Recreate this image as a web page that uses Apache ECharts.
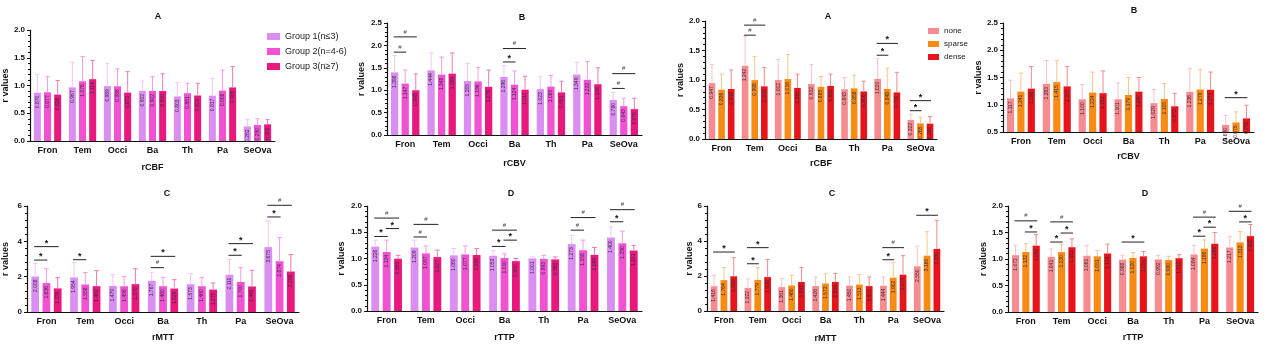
<!DOCTYPE html>
<html>
<head>
<meta charset="utf-8">
<script src="https://cdn.jsdelivr.net/npm/echarts@6/dist/echarts.min.js"></script>
<style>
  html, body { margin: 0; padding: 0; background: #fff; }
  #chart { width: 1280px; height: 351px; }
</style>
</head>
<body>
<div id="chart"></div>
<script>
// categories and groups
const categories = ['Fron', 'Tem', 'Occi', 'Ba', 'Th', 'Pa', 'SeOva']
const groupNames = ['Group 1(n≤3)', 'Group 2(n=4-6)', 'Group 3(n≥7)']
const densityNames = ['none', 'sparse', 'dense']

// rCBF by group (mean, mean+SD)
const groupCbfMean = [
  [0.870, 0.967, 0.989, 0.902, 0.803, 0.817, 0.262],
  [0.877, 1.076, 0.986, 0.902, 0.861, 0.908, 0.290],
  [0.836, 1.114, 0.872, 0.900, 0.820, 0.965, 0.300]
]
const groupCbfUpper = [
  [1.20, 1.42, 1.40, 1.08, 1.05, 1.13, 0.39],
  [1.16, 1.52, 1.30, 1.16, 1.04, 1.28, 0.40],
  [1.09, 1.45, 1.25, 1.21, 1.04, 1.34, 0.385]
]
const groupCbfSig = []

// rCBV by group
const groupCbvMean = [
  [1.398, 1.444, 1.205, 1.296, 1.023, 1.349, 0.780],
  [1.147, 1.348, 1.196, 1.124, 1.080, 1.232, 0.643],
  [0.998, 1.369, 1.076, 1.011, 0.951, 1.134, 0.578]
]
const groupCbvUpper = [
  [1.77, 1.83, 1.60, 1.55, 1.30, 1.62, 0.95],
  [1.45, 1.74, 1.51, 1.43, 1.33, 1.64, 0.82],
  [1.36, 1.83, 1.45, 1.31, 1.20, 1.50, 0.82]
]
// [category, from group, to group, level, mark]
const groupCbvSig = [
  [0, 0, 1, 1.85, '#'], [0, 0, 2, 2.19, '#'],
  [3, 0, 1, 1.63, '*'], [3, 0, 2, 1.93, '#'],
  [6, 0, 1, 1.04, '#'], [6, 0, 2, 1.37, '#']
]

// rMTT by group
const groupMttMean = [
  [2.008, 1.954, 1.479, 1.767, 1.573, 2.111, 3.675],
  [1.636, 1.558, 1.456, 1.460, 1.460, 1.700, 2.874],
  [1.338, 1.462, 1.576, 1.328, 1.270, 1.445, 2.290]
]
const groupMttUpper = [
  [2.75, 2.79, 2.11, 2.25, 2.17, 2.98, 5.15],
  [2.45, 2.23, 2.02, 1.96, 1.96, 2.51, 4.21],
  [1.94, 2.34, 2.45, 1.83, 1.64, 2.36, 3.25]
]
const groupMttSig = [
  [0, 0, 1, 2.94, '*'], [0, 0, 2, 3.70, '*'],
  [1, 0, 1, 2.96, '*'],
  [3, 0, 1, 2.51, '#'], [3, 0, 2, 3.15, '*'],
  [5, 0, 1, 3.21, '*'], [5, 0, 2, 3.87, '*'],
  [6, 0, 1, 5.38, '*'], [6, 0, 2, 6.04, '#']
]

// rTTP by group
const groupTtpMean = [
  [1.226, 1.209, 1.060, 1.053, 1.001, 1.273, 1.400],
  [1.124, 1.097, 1.077, 1.010, 0.993, 1.158, 1.290],
  [0.995, 1.027, 1.066, 0.950, 0.983, 1.069, 1.151]
]
const groupTtpUpper = [
  [1.35, 1.35, 1.19, 1.15, 1.03, 1.44, 1.60],
  [1.35, 1.24, 1.24, 1.09, 1.06, 1.35, 1.52],
  [1.06, 1.16, 1.19, 1.00, 1.03, 1.21, 1.25]
]
const groupTtpSig = [
  [0, 0, 1, 1.42, '*'], [0, 1, 2, 1.57, '*'], [0, 0, 2, 1.77, '#'],
  [1, 0, 1, 1.41, '#'], [1, 0, 2, 1.65, '#'],
  [3, 0, 1, 1.23, '*'], [3, 1, 2, 1.35, '*'], [3, 0, 2, 1.54, '#'],
  [5, 0, 1, 1.54, '#'], [5, 0, 2, 1.78, '#'],
  [6, 0, 1, 1.70, '*'], [6, 0, 2, 1.93, '#']
]

// rCBF by density
const densityCbfMean = [
  [0.947, 1.242, 1.002, 0.932, 0.843, 1.020, 0.323],
  [0.836, 0.998, 1.016, 0.885, 0.858, 0.848, 0.265],
  [0.848, 0.893, 0.866, 0.900, 0.806, 0.790, 0.260]
]
const densityCbfUpper = [
  [1.26, 1.74, 1.35, 1.26, 1.04, 1.36, 0.42],
  [1.10, 1.40, 1.43, 1.06, 1.08, 1.20, 0.37],
  [1.17, 1.21, 1.10, 1.10, 0.98, 1.13, 0.38]
]
const densityCbfSig = [
  [1, 0, 1, 1.76, '#'], [1, 0, 2, 1.93, '#'],
  [5, 0, 1, 1.42, '*'], [5, 0, 2, 1.62, '*'],
  [6, 0, 1, 0.48, '*'], [6, 0, 2, 0.65, '*']
]

// rCBV by density
const densityCbvMean = [
  [1.117, 1.383, 1.100, 1.101, 1.029, 1.236, 0.630],
  [1.241, 1.415, 1.224, 1.179, 1.105, 1.279, 0.675],
  [1.296, 1.337, 1.212, 1.240, 0.972, 1.275, 0.750]
]
const densityCbvUpper = [
  [1.45, 1.81, 1.37, 1.40, 1.28, 1.66, 0.80],
  [1.58, 1.81, 1.60, 1.50, 1.39, 1.65, 0.87],
  [1.70, 1.70, 1.62, 1.50, 1.21, 1.60, 0.99]
]
const densityCbvSig = [[6, 0, 2, 1.13, '*']]

// rMTT by density
const densityMttMean = [
  [1.416, 1.322, 1.361, 1.426, 1.450, 1.444, 2.550],
  [1.764, 1.779, 1.460, 1.573, 1.513, 1.902, 3.160],
  [1.983, 1.936, 1.658, 1.656, 1.423, 2.074, 3.550]
]
const densityMttUpper = [
  [2.04, 1.83, 1.85, 1.94, 1.94, 1.94, 3.71],
  [2.48, 2.48, 2.04, 2.13, 2.08, 2.78, 4.53],
  [3.05, 2.95, 2.48, 2.15, 1.94, 3.16, 5.18]
]
const densityMttSig = [
  [0, 0, 2, 3.37, '*'],
  [1, 0, 1, 2.70, '*'], [1, 0, 2, 3.62, '*'],
  [5, 0, 1, 2.93, '*'], [5, 0, 2, 3.62, '#'],
  [6, 0, 2, 5.47, '*']
]

// rTTP by density
const densityTtpMean = [
  [1.072, 1.041, 1.061, 0.988, 0.992, 1.084, 1.217],
  [1.132, 1.130, 1.051, 1.020, 0.980, 1.196, 1.313],
  [1.252, 1.222, 1.104, 1.050, 1.015, 1.288, 1.432]
]
const densityTtpUpper = [
  [1.26, 1.19, 1.26, 1.07, 1.07, 1.26, 1.42],
  [1.29, 1.28, 1.16, 1.12, 1.05, 1.36, 1.52],
  [1.46, 1.38, 1.28, 1.14, 1.08, 1.50, 1.65]
]
const densityTtpSig = [
  [0, 1, 2, 1.51, '*'], [0, 0, 2, 1.72, '#'],
  [1, 0, 1, 1.32, '*'], [1, 1, 2, 1.49, '*'], [1, 0, 2, 1.70, '#'],
  [3, 0, 2, 1.32, '*'],
  [5, 0, 1, 1.43, '*'], [5, 1, 2, 1.60, '*'], [5, 0, 2, 1.79, '#'],
  [6, 1, 2, 1.70, '*'], [6, 0, 2, 1.90, '#']
]

const groupColors = ['#DA8EF2', '#F052D2', '#E8187C']
const groupErrColors = ['#F2C6F8', '#F59CE4', '#F27BB0']
const densityColors = ['#F68B90', '#F88B14', '#E8141C']
const densityErrColors = ['#F9C3C3', '#F8C58A', '#F28A8A']

const BAR_W = 0.2
const BAR_GAP = 0.45

const panels = [
  { title: 'A', xName: 'rCBF', mean: groupCbfMean, upper: groupCbfUpper, sig: groupCbfSig, names: groupNames, colors: groupColors, err: groupErrColors,
    min: 0, max: 2, interval: 0.5, dec: 1, grid: { left: 30, top: 30, width: 245, height: 111 }, tPos: [153, 7], yGap: 20, xGap: 22 },
  { title: 'B', xName: 'rCBV', mean: groupCbvMean, upper: groupCbvUpper, sig: groupCbvSig, names: groupNames, colors: groupColors, err: groupErrColors,
    min: 0, max: 2.5, interval: 0.5, dec: 1, grid: { left: 387, top: 23, width: 255, height: 112 }, tPos: [517, 8], yGap: 21, xGap: 24 },
  { title: 'A', xName: 'rCBF', mean: densityCbfMean, upper: densityCbfUpper, sig: densityCbfSig, names: densityNames, colors: densityColors, err: densityErrColors,
    min: 0, max: 2, interval: 0.5, dec: 1, grid: { left: 705, top: 21, width: 232, height: 118 }, tPos: [823, 7], yGap: 12, xGap: 20 },
  { title: 'B', xName: 'rCBV', mean: densityCbvMean, upper: densityCbvUpper, sig: densityCbvSig, names: densityNames, colors: densityColors, err: densityErrColors,
    min: 0.5, max: 2.5, interval: 0.5, dec: 1, grid: { left: 1003, top: 23, width: 251, height: 109 }, tPos: [1129, 1], yGap: 17, xGap: 20 },
  { title: 'C', xName: 'rMTT', mean: groupMttMean, upper: groupMttUpper, sig: groupMttSig, names: groupNames, colors: groupColors, err: groupErrColors,
    min: 0, max: 6, interval: 2, dec: 0, grid: { left: 26, top: 206, width: 273, height: 106 }, tPos: [162, 184], yGap: 17, xGap: 21 },
  { title: 'D', xName: 'rTTP', mean: groupTtpMean, upper: groupTtpUpper, sig: groupTtpSig, names: groupNames, colors: groupColors, err: groupErrColors,
    min: 0, max: 2, interval: 0.5, dec: 1, grid: { left: 367, top: 206, width: 275, height: 105 }, tPos: [506, 184], yGap: 21, xGap: 22 },
  { title: 'C', xName: 'rMTT', mean: densityMttMean, upper: densityMttUpper, sig: densityMttSig, names: densityNames, colors: densityColors, err: densityErrColors,
    min: 0, max: 6, interval: 2, dec: 0, grid: { left: 707, top: 206, width: 237, height: 105 }, tPos: [827, 184], yGap: 13, xGap: 23 },
  { title: 'D', xName: 'rTTP', mean: densityTtpMean, upper: densityTtpUpper, sig: densityTtpSig, names: densityNames, colors: densityColors, err: densityErrColors,
    min: 0, max: 2, interval: 0.5, dec: 1, grid: { left: 1008, top: 206, width: 250, height: 106 }, tPos: [1140, 184], yGap: 20, xGap: 21 }
]

const INK = '#111'

function barCenter(api, cat, g) {
  const band = api.size([1, 0])[0]
  const w = band * BAR_W
  return api.coord([cat, 0])[0] + (g - 1) * w * (1 + BAR_GAP)
}

const titles = []
const grids = []
const xAxes = []
const yAxes = []
const series = []

panels.forEach((p, pi) => {
  titles.push({
    text: p.title, left: p.tPos[0], top: p.tPos[1], textAlign: 'center',
    textStyle: { fontSize: 9, fontWeight: 'bold', color: INK }
  })
  grids.push(Object.assign({ containLabel: false }, p.grid))
  xAxes.push({
    type: 'category', gridIndex: pi, data: categories,
    name: p.xName, nameLocation: 'middle', nameGap: p.xGap,
    nameTextStyle: { fontSize: 9, fontWeight: 'bold', color: INK },
    axisLine: { lineStyle: { color: INK, width: 1.2 } },
    axisTick: { alignWithLabel: true, length: 3, lineStyle: { color: INK } },
    axisLabel: { interval: 0, fontSize: 9, fontWeight: 'bold', color: INK, margin: 5 }
  })
  yAxes.push({
    type: 'value', gridIndex: pi, min: p.min, max: p.max, interval: p.interval,
    name: 'r values', nameLocation: 'middle', nameGap: p.yGap,
    nameTextStyle: { fontSize: 9, fontWeight: 'bold', color: INK },
    axisLine: { show: true, lineStyle: { color: INK, width: 1.2 } },
    axisTick: { show: true, length: 3, lineStyle: { color: INK } },
    minorTick: { show: true, splitNumber: 5, length: 2, lineStyle: { color: INK } },
    splitLine: { show: false },
    axisLabel: { fontSize: 8, fontWeight: 'bold', color: INK, margin: 5, formatter: v => v.toFixed(p.dec) }
  })

  p.mean.forEach((vals, g) => {
    series.push({
      name: p.names[g], type: 'bar', xAxisIndex: pi, yAxisIndex: pi,
      data: vals, barWidth: (BAR_W * 100) + '%', barGap: (BAR_GAP * 100) + '%',
      itemStyle: { color: p.colors[g] },
      label: {
        show: true, position: 'insideTop', rotate: 90, align: 'right', verticalAlign: 'middle',
        distance: 3, fontSize: 5, color: '#3a2a3e', formatter: d => d.value.toFixed(3)
      },
      silent: true
    })
  })

  const errData = []
  p.mean.forEach((vals, g) => {
    vals.forEach((v, c) => errData.push([c, g, v, p.upper[g][c]]))
  })
  series.push({
    type: 'custom', xAxisIndex: pi, yAxisIndex: pi, z: 3, silent: true,
    encode: { x: 0, y: 3 },
    data: errData,
    renderItem: (params, api) => {
      const c = api.value(0)
      const g = api.value(1)
      const x = barCenter(api, c, g)
      const y0 = api.coord([c, api.value(2)])[1]
      const y1 = api.coord([c, api.value(3)])[1]
      const half = api.size([1, 0])[0] * BAR_W * 0.3
      const stroke = p.err[g]
      return {
        type: 'group',
        children: [
          { type: 'line', shape: { x1: x, y1: y0, x2: x, y2: y1 }, style: { stroke, lineWidth: 1 } },
          { type: 'line', shape: { x1: x - half, y1: y1, x2: x + half, y2: y1 }, style: { stroke, lineWidth: 1 } }
        ]
      }
    }
  })

  if (p.sig.length) {
    series.push({
      type: 'custom', xAxisIndex: pi, yAxisIndex: pi, z: 4, silent: true,
      encode: { x: 0, y: 3 },
      data: p.sig.map(s => [s[0], s[1], s[2], s[3]]),
      renderItem: (params, api) => {
        const s = p.sig[params.dataIndex]
        const c = api.value(0)
        const x1 = barCenter(api, c, api.value(1)) - 1
        const x2 = barCenter(api, c, api.value(2)) + 1
        const y = api.coord([c, api.value(3)])[1]
        const star = s[4] === '*'
        return {
          type: 'group',
          children: [
            { type: 'line', shape: { x1, y1: y, x2, y2: y }, style: { stroke: '#222', lineWidth: 1 } },
            {
              type: 'text', x: (x1 + x2) / 2, y: star ? y + 1 : y - 2,
              style: {
                text: s[4], align: 'center', verticalAlign: 'bottom',
                textAlign: 'center', textVerticalAlign: 'bottom',
                fill: star ? '#111' : '#444',
                font: star ? 'bold 9px Liberation Sans' : '6px Liberation Sans'
              }
            }
          ]
        }
      }
    })
  }
})

const chart = echarts.init(document.getElementById('chart'), null, { renderer: 'canvas' })
chart.setOption({
  animation: false,
  textStyle: { fontFamily: 'Liberation Sans, Arial, sans-serif' },
  title: titles,
  legend: [
    {
      data: groupNames, orient: 'vertical', left: 262, top: 27,
      icon: 'rect', itemWidth: 13, itemHeight: 7, itemGap: 6,
      textStyle: { fontSize: 9, color: '#222' }, selectedMode: false
    },
    {
      data: densityNames, orient: 'vertical', left: 923, top: 22,
      icon: 'rect', itemWidth: 11, itemHeight: 6, itemGap: 5,
      textStyle: { fontSize: 8, color: '#222' }, selectedMode: false
    }
  ],
  grid: grids,
  xAxis: xAxes,
  yAxis: yAxes,
  series
})
</script>
</body>
</html>
